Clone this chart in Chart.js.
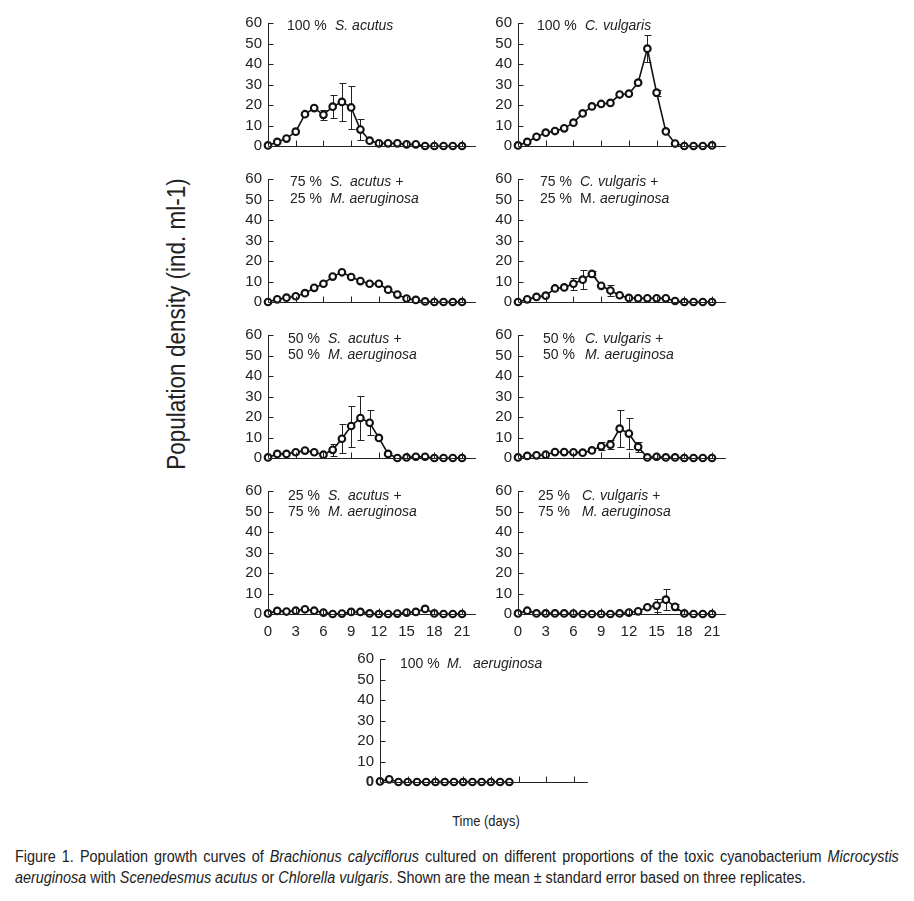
<!DOCTYPE html>
<html>
<head>
<meta charset="utf-8">
<script src="https://cdn.jsdelivr.net/npm/chart.js@4.4.0/dist/chart.umd.min.js"></script>
<style>
  body { margin: 0; background: #fff; width: 914px; height: 901px; position: relative; overflow: hidden;
         font-family: 'Liberation Sans', Arial, sans-serif; color: #222; }
  .panel { position: absolute; }
  .seg { position: absolute; font-size: 14px; line-height: 16px; white-space: pre; }
  .seg.it { font-style: italic; }
  #ytitle { position: absolute; left: 176px; top: 324px; font-size: 25px; white-space: nowrap;
            transform: translate(-50%, -50%) rotate(-90deg) scaleX(0.9); }
  #xtitle { position: absolute; left: 486px; top: 812px; font-size: 15px; white-space: nowrap;
            transform: translateX(-50%) scaleX(0.86); }
  .cap { position: absolute; left: 15px; font-size: 16px; line-height: 16px; white-space: nowrap;
         transform-origin: 0 0; transform: scaleX(0.9); }
  #cap1 { top: 849px; width: 982px; text-align: justify; text-align-last: justify; }
  #cap2 { top: 870px; }
</style>
</head>
<body>
<div id="ytitle">Population density (ind. ml-1)</div>
<div id="xtitle">Time (days)</div>
<div class="cap" id="cap1">Figure 1. Population growth curves of <i>Brachionus calyciflorus</i> cultured on different proportions of the toxic cyanobacterium <i>Microcystis</i></div>
<div class="cap" id="cap2"><i>aeruginosa</i> with <i>Scenedesmus acutus</i> or <i>Chlorella vulgaris</i>. Shown are the mean ± standard error based on three replicates.</div>

<script>
// days sampled
const days = [0, 1, 2, 3, 4, 5, 6, 7, 8, 9, 10, 11, 12, 13, 14, 15, 16, 17, 18, 19, 20, 21];
const daysShort = [0, 1, 2, 3, 4, 5, 6, 7, 8, 9, 10, 11, 12, 13, 14];
const xTicks = [0, 3, 6, 9, 12, 15, 18, 21];
const yTicks = [0, 10, 20, 30, 40, 50, 60];

// mean population density (ind. ml-1)
const sAcutus100 = [0.3, 2, 3.6, 7, 15.5, 18.5, 15.2, 19.2, 21.5, 18.8, 8, 2.6, 1.3, 1.3, 1.3, 0.8, 0.8, 0, 0, 0, 0, 0];
const cVulgaris100 = [0.3, 2, 4.5, 6.5, 7.3, 8.6, 11.4, 15.9, 19.3, 20.5, 21, 25.1, 25.5, 30.9, 47.5, 26, 7.1, 1.2, 0, 0, 0, 0.3];
const sAcutus75 = [0, 1.3, 2.1, 2.8, 4.3, 6.9, 8.9, 12.4, 14.5, 12.2, 10.2, 8.9, 8.9, 6, 3.6, 1.7, 1, 0.3, 0, 0, 0, 0];
const cVulgaris75 = [0, 1.3, 2.5, 3.1, 6.6, 7.1, 8.9, 10.9, 13.7, 7.9, 5.6, 3.3, 2, 1.8, 1.8, 1.8, 1.8, 0.5, 0, 0, 0, 0];
const sAcutus50 = [0.3, 2, 2, 2.8, 3.6, 2.8, 1.6, 4, 9.4, 15.6, 19.5, 17.2, 9.8, 2, 0, 0.3, 0.6, 0.6, 0, 0, 0, 0];
const cVulgaris50 = [0.3, 1, 1.3, 1.6, 2.9, 2.9, 2.8, 2.6, 3.7, 5.7, 6.5, 14.3, 11.9, 5.4, 0.3, 0.6, 0.3, 0.3, 0, 0, 0, 0];
const sAcutus25 = [0.3, 1.5, 1.2, 1.6, 2.3, 1.6, 0.7, 0, 0.2, 1, 1, 0.3, 0, 0, 0.2, 0.7, 1, 2.5, 0.3, 0, 0, 0];
const cVulgaris25 = [0.3, 1.6, 0.3, 0.3, 0.3, 0.3, 0.2, 0, 0, 0, 0, 0.3, 0.7, 1.3, 3.3, 4.1, 7, 3.5, 0.3, 0, 0, 0];
const mAeruginosa100 = [0.3, 1.3, 0, 0, 0, 0, 0, 0, 0, 0, 0, 0, 0, 0, 0];

// standard errors
const sAcutus100Se = [0, 0, 0, 0, 0, 0, 2.3, 5.5, 9.3, 10.3, 5, 0, 0, 0, 0, 0, 0, 0, 0, 0, 0, 0];
const cVulgaris100Se = [0, 0, 0, 0, 0, 0, 0, 0, 0, 0, 0, 0, 0, 0, 6.5, 1.5, 0, 0, 0, 0, 0, 0];
const sAcutus75Se = [0, 0, 0, 0, 0, 0, 0, 0, 0, 0, 0, 0, 0, 0, 0, 0, 0, 0, 0, 0, 0, 0];
const cVulgaris75Se = [0, 0, 0, 0, 0, 0, 3, 4.8, 1.5, 0, 2.5, 0, 0, 0, 0, 0, 0, 0, 0, 0, 0, 0];
const sAcutus50Se = [0, 0, 0, 0, 0, 0, 0, 2.8, 7, 10, 10.7, 6.2, 0, 0, 0, 0, 0, 0, 0, 0, 0, 0];
const cVulgaris50Se = [0, 0, 0, 0, 0, 0, 0, 0, 0, 2, 2.3, 9, 7.5, 2.5, 0, 0, 0, 0, 0, 0, 0, 0];
const sAcutus25Se = [0, 0, 0, 0, 0, 0, 0, 0, 0, 0, 0, 0, 0, 0, 0, 0, 0, 0, 0, 0, 0, 0];
const cVulgaris25Se = [0, 0, 0, 0, 0, 0, 0, 0, 0, 0, 0, 0, 0, 0, 0, 3, 5, 1.5, 0, 0, 0, 0];
const mAeruginosa100Se = [0, 0, 0, 0, 0, 0, 0, 0, 0, 0, 0, 0, 0, 0, 0];

// panel labels: [text, italic] segments per line
const labelSAcutus100 = [[['100 %', false], ['S. acutus', true]]];
const labelCVulgaris100 = [[['100 %', false], ['C. vulgaris', true]]];
const labelSAcutus75 = [[['75 %', false], ['S.', true], ['acutus +', true]], [['25 %', false], ['M. aeruginosa', true]]];
const labelCVulgaris75 = [[['75 %', false], ['C. vulgaris +', true]], [['25 %', false], ['M.', false], ['aeruginosa', true]]];
const labelSAcutus50 = [[['50 %', false], ['S.', true], ['acutus +', true]], [['50 %', false], ['M. aeruginosa', true]]];
const labelCVulgaris50 = [[['50 %', false], ['C. vulgaris +', true]], [['50 %', false], ['M. aeruginosa', true]]];
const labelSAcutus25 = [[['25 %', false], ['S.', true], ['acutus +', true]], [['75 %', false], ['M. aeruginosa', true]]];
const labelCVulgaris25 = [[['25 %', false], ['C. vulgaris +', true]], [['75 %', false], ['M. aeruginosa', true]]];
const labelMAeruginosa100 = [[['100 %', false], ['M.', true], ['aeruginosa', true]]];

// layout
const FONT = "'Liberation Sans', Arial, sans-serif";
const INK = '#222';
const YW = 44;          // y axis box width
const PAD_TOP = 14;
const PLOT_H = 123;     // 0..60
const DAY_PX = 9.24;
const X_MAX = 22.5;
const PLOT_W = Math.round(DAY_PX * X_MAX);

const panels = [
  { left: 268, y0: 146, x: days, v: sAcutus100, e: sAcutus100Se, label: labelSAcutus100, lx: [287, 335], ly: [25] },
  { left: 518, y0: 146, x: days, v: cVulgaris100, e: cVulgaris100Se, label: labelCVulgaris100, lx: [537, 585], ly: [25] },
  { left: 268, y0: 302, x: days, v: sAcutus75, e: sAcutus75Se, label: labelSAcutus75, lx: [290, 330, 350], ly: [181, 198] },
  { left: 518, y0: 302, x: days, v: cVulgaris75, e: cVulgaris75Se, label: labelCVulgaris75, lx: [540, 580, 600], ly: [181, 198] },
  { left: 268, y0: 458, x: days, v: sAcutus50, e: sAcutus50Se, label: labelSAcutus50, lx: [288, 328, 348], ly: [338, 354] },
  { left: 518, y0: 458, x: days, v: cVulgaris50, e: cVulgaris50Se, label: labelCVulgaris50, lx: [543, 585], ly: [338, 354] },
  { left: 268, y0: 614, x: days, v: sAcutus25, e: sAcutus25Se, label: labelSAcutus25, lx: [288, 328, 348], ly: [495, 511], xLabels: true },
  { left: 518, y0: 614, x: days, v: cVulgaris25, e: cVulgaris25Se, label: labelCVulgaris25, lx: [538, 582], ly: [495, 511], xLabels: true },
  { left: 380, y0: 782, x: daysShort, v: mAeruginosa100, e: mAeruginosa100Se, label: labelMAeruginosa100, lx: [400, 447, 473], ly: [663], boldZero: true }
];

// axes drawn with inward ticks, like the original figure
const axesPlugin = {
  id: 'inwardAxes',
  afterDraw(chart) {
    const { ctx, chartArea: a, scales: { x, y } } = chart;
    const y0 = Math.round(y.getPixelForValue(0)) + 0.5, y60 = y.getPixelForValue(60);
    const ax = Math.round(a.left) + 0.5;
    ctx.save();
    ctx.strokeStyle = INK;
    ctx.lineWidth = 1;
    ctx.beginPath();
    ctx.moveTo(ax, y60);
    ctx.lineTo(ax, y0);
    ctx.moveTo(ax, y0);
    ctx.lineTo(a.right, y0);
    yTicks.forEach(t => {
      if (t === 0) return;
      const py = Math.round(y.getPixelForValue(t)) + 0.5;
      ctx.moveTo(ax, py);
      ctx.lineTo(ax + 5, py);
    });
    xTicks.forEach(t => {
      if (t === 0) return;
      const px = Math.round(x.getPixelForValue(t)) + 0.5;
      ctx.moveTo(px, y0);
      ctx.lineTo(px, y0 - 6);
    });
    ctx.stroke();
    ctx.restore();
  }
};

// vertical standard error bars, drawn under the markers
const errorPlugin = {
  id: 'errorBars',
  beforeDatasetsDraw(chart, args, opts) {
    const { ctx, scales: { x, y } } = chart;
    const xs = opts.x, vs = opts.v, es = opts.e;
    ctx.save();
    ctx.strokeStyle = INK;
    ctx.lineWidth = 1;
    ctx.beginPath();
    xs.forEach((d, i) => {
      const e = es[i];
      if (!e) return;
      const px = Math.round(x.getPixelForValue(d)) + 0.5;
      const top = Math.round(y.getPixelForValue(vs[i] + e)) + 0.5;
      const bot = Math.round(y.getPixelForValue(Math.max(vs[i] - e, 0))) + 0.5;
      ctx.moveTo(px, top); ctx.lineTo(px, bot);
      ctx.moveTo(px - 3, top); ctx.lineTo(px + 4, top);
      ctx.moveTo(px - 3, bot); ctx.lineTo(px + 4, bot);
    });
    ctx.stroke();
    ctx.restore();
  }
};

function addLabel(p) {
  p.label.forEach((line, li) => {
    line.forEach((seg, si) => {
      const s = document.createElement('span');
      s.className = 'seg' + (seg[1] ? ' it' : '');
      s.textContent = seg[0];
      s.style.left = p.lx[si] + 'px';
      s.style.top = (p.ly[li] - 8) + 'px';
      document.body.appendChild(s);
    });
  });
}

function buildChart(p, w, h, xh) {
  const box = document.createElement('div');
  box.className = 'panel';
  const cv = document.createElement('canvas');
  cv.width = w; cv.height = h;
  box.appendChild(cv);
  document.body.appendChild(box);

  const chart = new Chart(cv, {
    type: 'line',
    data: {
      datasets: [{
        data: p.x.map((d, i) => ({ x: d, y: p.v[i] })),
        borderColor: '#111',
        borderWidth: 1.6,
        pointRadius: 3.3,
        pointBorderWidth: 2.1,
        pointBackgroundColor: '#fff',
        pointBorderColor: '#111',
        tension: 0,
        clip: false
      }]
    },
    options: {
      responsive: false,
      animation: false,
      devicePixelRatio: 1,
      layout: { padding: { top: PAD_TOP, right: 0, left: 0, bottom: 0 } },
      plugins: {
        legend: { display: false },
        tooltip: { enabled: false },
        errorBars: { x: p.x, v: p.v, e: p.e }
      },
      scales: {
        x: {
          type: 'linear', min: 0, max: X_MAX,
          afterBuildTicks: s => { s.ticks = xTicks.map(v => ({ value: v })); },
          afterFit: s => { s.height = xh; },
          grid: { display: false, drawTicks: false, tickLength: 0 },
          border: { display: false },
          ticks: { display: !!p.xLabels, color: INK, padding: 9, maxRotation: 0, autoSkip: false,
                   font: { family: FONT, size: 15 } }
        },
        y: {
          min: 0, max: 60,
          afterBuildTicks: s => { s.ticks = yTicks.map(v => ({ value: v })); },
          afterFit: s => { s.width = YW; },
          grid: { display: false, drawTicks: true, tickLength: 6 },
          border: { display: false },
          ticks: {
            color: INK, padding: 0, autoSkip: false,
            font: c => ({ family: FONT, size: 15, weight: (p.boldZero && c.tick && c.tick.value === 0) ? 'bold' : 'normal' })
          }
        }
      }
    },
    plugins: [errorPlugin, axesPlugin]
  });
  return { box, chart };
}

function makePanel(p) {
  const xh = p.xLabels ? 28 : 14;
  let w = YW + PLOT_W;
  let h = PAD_TOP + PLOT_H + xh;
  let r = buildChart(p, w, h, xh);
  // correct the canvas size if the layout shrank the plot area
  const a = r.chart.chartArea;
  const dh = Math.round(PLOT_H - (a.bottom - a.top));
  const dw = Math.round(PLOT_W - (a.right - a.left));
  if (dh !== 0 || dw !== 0) {
    r.chart.destroy();
    r.box.remove();
    w += dw; h += dh;
    r = buildChart(p, w, h, xh);
  }
  const b = r.chart.chartArea;
  r.box.style.left = (p.left - b.left) + 'px';
  r.box.style.top = (p.y0 - PLOT_H - b.top) + 'px';
  addLabel(p);
}

panels.forEach(makePanel);
</script>
</body>
</html>
